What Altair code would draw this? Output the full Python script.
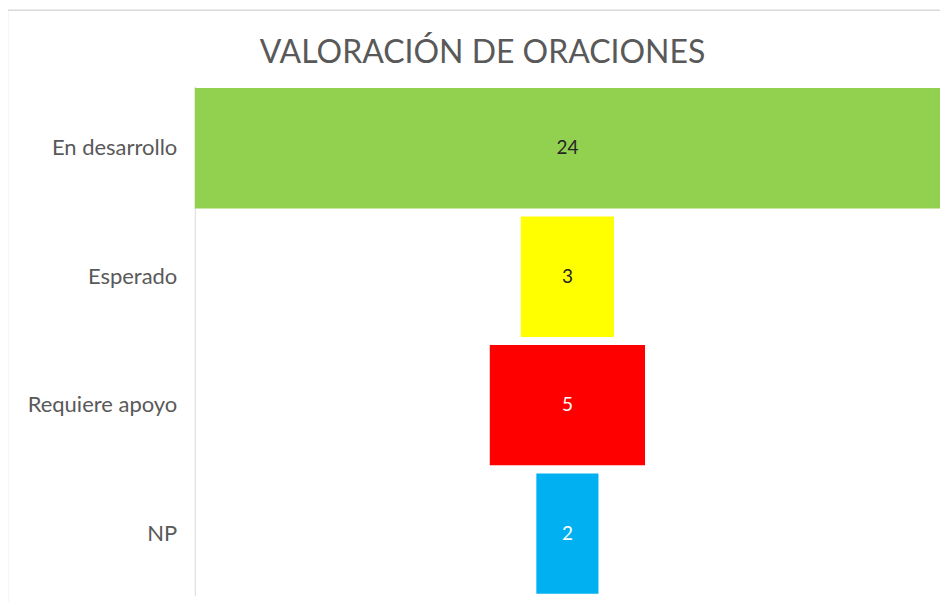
import altair as alt
import pandas as pd

categories = ["En desarrollo", "Esperado", "Requiere apoyo", "NP"]
values = [24, 3, 5, 2]
bar_colors = ["#92D050", "#FFFF00", "#FF0000", "#00B0F0"]
text_colors = ["#262626", "#262626", "#FFFFFF", "#FFFFFF"]

df = pd.DataFrame({
    "cat": categories,
    "value": values,
    "color": bar_colors,
    "tcolor": text_colors,
})

base = alt.Chart(df).transform_calculate(
    lo="-datum.value/2", hi="datum.value/2", zero="0"
)

y = alt.Y("cat:N", sort=categories, title=None,
          scale=alt.Scale(paddingInner=0.063, paddingOuter=0.0145),
          axis=alt.Axis(ticks=False, domainColor="#d9d9d9", domainWidth=1,
                        labelFont="Lato", labelFontSize=22, labelColor="#595959",
                        labelPadding=18))

xscale = alt.Scale(domain=[-12, 12], nice=False, zero=False)

bars = base.mark_bar().encode(
    x=alt.X("lo:Q", scale=xscale, axis=None),
    x2="hi:Q",
    y=y,
    color=alt.Color("color:N", scale=None),
)

labels = base.mark_text(font="Lato", fontSize=19).encode(
    x=alt.X("zero:Q", scale=xscale, axis=None),
    y=alt.Y("cat:N", sort=categories),
    text="value:Q",
    color=alt.Color("tcolor:N", scale=None),
)

frame = alt.Chart(pd.DataFrame({"a": [1]})).mark_rect(
    fill=None, stroke="#d9d9d9", strokeWidth=1.5
).encode(
    x=alt.value(-187.5), x2=alt.value(800), y=alt.value(-76), y2=alt.value(560)
)

chart = alt.layer(frame, bars, labels).properties(
    width=746, height=510,
    autosize=alt.AutoSizeParams(type="none"),
    padding={"left": 187, "top": 78, "right": 0, "bottom": 6},
    title=alt.TitleParams("VALORACIÓN DE ORACIONES", font="Lato", fontSize=32,
                          fontWeight="normal", color="#595959", anchor="middle",
                          frame="group", baseline="alphabetic", offset=-85, dx=-85),
).configure_view(stroke=None)

chart.save("out.html", embed_options={"renderer": "svg", "actions": False})
